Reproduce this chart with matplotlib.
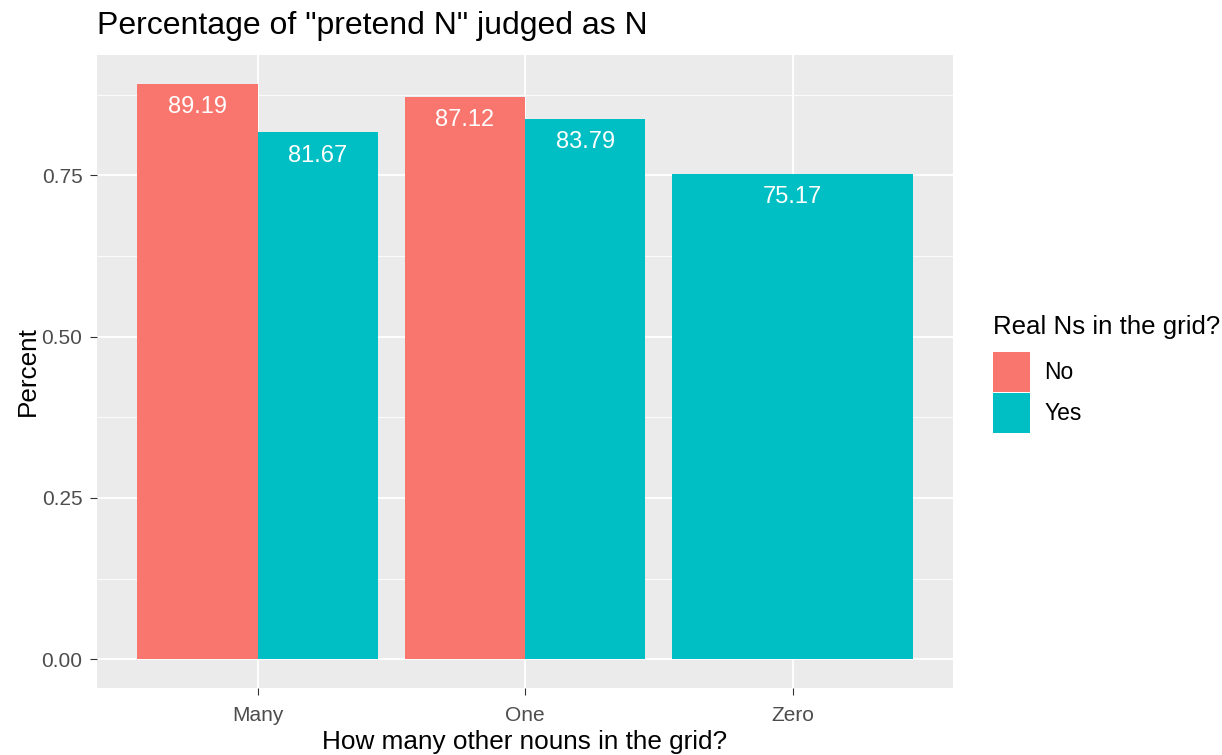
import matplotlib.pyplot as plt
from matplotlib.patches import Patch

# Data
categories = ["Many", "One", "Zero"]
no_vals = [0.8919, 0.8712, None]
yes_vals = [0.8167, 0.8379, 0.7517]
groups = ["No", "Yes"]
colors = {"No": "#F8766D", "Yes": "#00BFC4"}

plt.rcParams['font.family'] = ['Liberation Sans', 'DejaVu Sans']

fig = plt.figure(figsize=(12.22, 7.55), dpi=100)
ax = fig.add_axes([97/1222, 67/755, (953-97)/1222, (688-55)/755])
ax.set_facecolor("#EBEBEB")

xs = [1, 2, 3]
bw = 0.45
lab_kw = dict(ha='center', va='center', color='white', fontsize=17, zorder=4)
for x, n, y in zip(xs, no_vals, yes_vals):
    if n is None:
        # only one group -> bar spans the full dodge width
        ax.bar(x, y, width=0.9, color=colors["Yes"], zorder=3)
        ax.text(x, y - 0.036, f"{y*100:.2f}", **lab_kw)
    else:
        ax.bar(x - bw/2, n, width=bw, color=colors["No"], zorder=3)
        ax.bar(x + bw/2, y, width=bw, color=colors["Yes"], zorder=3)
        ax.text(x - bw/2, n - 0.036, f"{n*100:.2f}", **lab_kw)
        ax.text(x + bw/2, y - 0.036, f"{y*100:.2f}", **lab_kw)

ax.set_xlim(0.4, 3.6)
ax.set_ylim(-0.0446, 0.8919 + 0.0446)
ax.set_xticks(xs)
ax.set_xticklabels(categories)
ax.set_yticks([0, 0.25, 0.5, 0.75])
ax.set_yticklabels(["0.00", "0.25", "0.50", "0.75"])
ax.set_yticks([0.125, 0.375, 0.625, 0.875], minor=True)

ax.grid(which='major', color='white', linewidth=1.3, zorder=0)
ax.grid(which='minor', axis='y', color='white', linewidth=0.6, zorder=0)
ax.set_axisbelow(True)
for s in ax.spines.values():
    s.set_visible(False)
ax.tick_params(axis='both', which='major', length=4.7, color='#333333',
               labelcolor='#4D4D4D', labelsize=15)
ax.tick_params(axis='x', which='major', pad=8)
ax.tick_params(axis='y', which='major', pad=5.8)
ax.tick_params(axis='y', which='minor', length=0)

ax.set_xlabel("How many other nouns in the grid?", fontsize=18.8, labelpad=4)
ax.set_ylabel("Percent", fontsize=18.8, labelpad=1)
ax.set_title('Percentage of "pretend N" judged as N', fontsize=23, loc='left', pad=15)

handles = [Patch(facecolor=colors[g], edgecolor='none', label=g) for g in groups]
leg = fig.legend(handles=handles, title="Real Ns in the grid?", loc='upper left',
                 bbox_to_anchor=(993/1222, 1 - 315/755), frameon=False,
                 borderpad=0, borderaxespad=0,
                 fontsize=16.5, title_fontsize=18.6, handlelength=1.6, handleheight=2.31,
                 handletextpad=0.65, labelspacing=0.08)
leg._legend_box.align = "left"
leg._legend_box.sep = 9  # gap between legend title and keys

fig.savefig("out.png", dpi=100)
